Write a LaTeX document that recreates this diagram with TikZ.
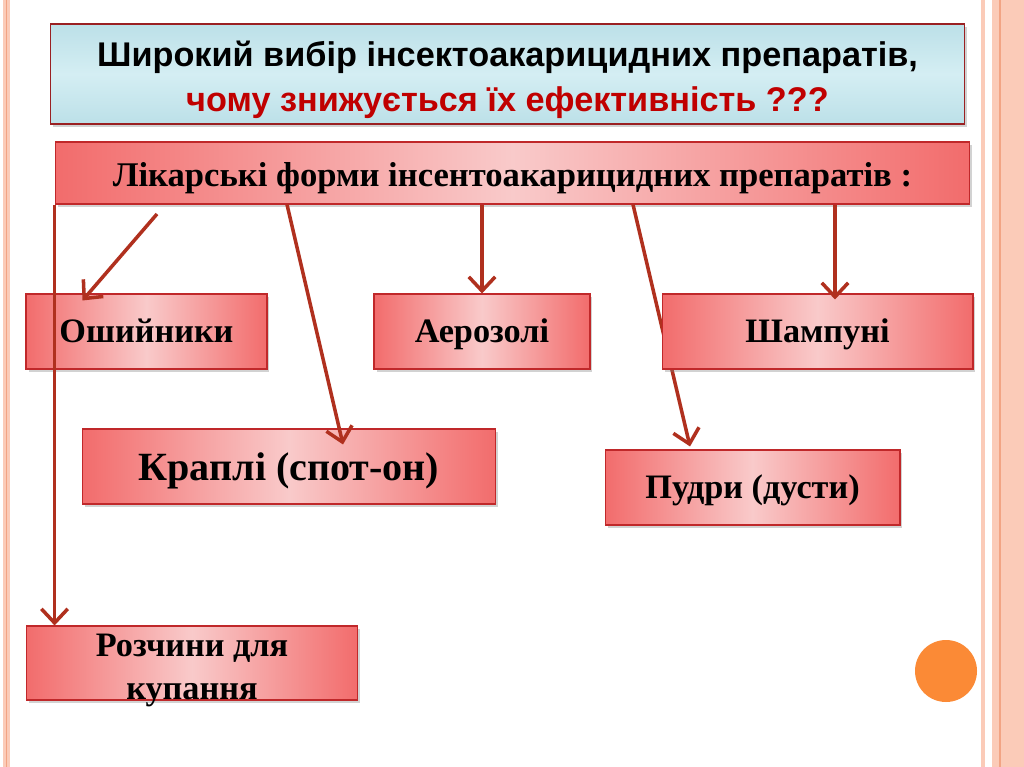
\documentclass[tikz,border=0pt]{standalone}
\usepackage{fontspec}
\setmainfont{Liberation Serif}
\newfontfamily\titlefont{Liberation Sans}
\usetikzlibrary{shapes,positioning,arrows.meta,shadows,calc}

\definecolor{stripe}{HTML}{FBCBB8}
\definecolor{stripeline}{HTML}{F2A484}
\definecolor{dotorange}{HTML}{FB8A36}
\definecolor{waterblue}{HTML}{BCE0E8}
\definecolor{waterlight}{HTML}{D4EEF3}
\definecolor{boxedge}{HTML}{F26C6C}
\definecolor{boxmid}{HTML}{F9CACA}
\definecolor{boxborder}{HTML}{C0282A}
\definecolor{arrred}{HTML}{B0301E}
\definecolor{qred}{HTML}{C00000}

\begin{document}
\begin{tikzpicture}[x=0.02cm, y=-0.02cm]
  \tikzstyle{shade} = [drop shadow={shadow xshift=0.5mm, shadow yshift=-0.6mm, opacity=0.35}]
  \tikzstyle{titlebox} = [rectangle, shade, draw=boxborder!80!black, line width=0.6pt, top color=waterblue, bottom color=waterblue, middle color=waterlight, minimum width=18.3cm, minimum height=2cm]
  \tikzstyle{titletext} = [align=center, inner sep=0pt, font=\titlefont\bfseries\fontsize{19.5}{25.5}\selectfont]
  \tikzstyle{formbox} = [rectangle, shade, draw=boxborder, line width=0.6pt, left color=boxedge, right color=boxedge, middle color=boxmid, minimum height=1.5cm, align=center, text height=14pt, text depth=1pt, font=\bfseries\fontsize{19.5}{23}\selectfont]
  \tikzstyle{headbox} = [formbox, minimum width=18.3cm, minimum height=1.24cm, text height=15.8pt, font=\bfseries\fontsize{19.7}{23}\selectfont]
  \tikzstyle{arr} = [draw=arrred, line width=2pt, -{Straight Barb[length=8pt,width=15pt]}]

  \useasboundingbox (0,0) rectangle (1024,767);
  \fill[white] (0,0) rectangle (1024,767);
  \fill[stripe] (3,0) rectangle (10,767);
  \draw[stripeline, line width=0.4pt] (6.5,0) -- (6.5,767);
  \fill[stripe] (981,0) rectangle (985,767);
  \fill[stripe] (992,0) rectangle (1024,767);
  \draw[stripeline, line width=0.6pt] (1000,0) -- (1000,767);
  \fill[dotorange] (946,671) circle (31);

  \node (title) [titlebox] at (507.5,74) {};
  \node (titlet) [titletext] at (507.5,80) {Широкий вибір інсектоакарицидних препаратів,\\
    \textcolor{qred}{чому знижується їх ефективність ???}};
  \node (hdr) [headbox] at (512.5,173) {Лікарські форми інсентоакарицидних препаратів :};

  \node (oshyi) [formbox, minimum width=4.82cm] at (146.5,331.5) {Ошийники};
  \node (aero) [formbox, minimum width=4.32cm] at (482,331.5) {Аерозолі};
  \node (krapli) [formbox, minimum width=8.28cm, text height=16.4pt, font=\bfseries\fontsize{22.8}{26}\selectfont] at (289,466.5) {Краплі (спот-он)};
  \node (pudry) [formbox, minimum width=5.9cm] at (752.5,487.5) {Пудри (дусти)};
  \node (rozch) [formbox, minimum width=6.64cm, minimum height=1.48cm] at (192,663) {};
  \node (rozchtext) [align=center, font=\bfseries\fontsize{19.5}{24}\selectfont] at (192,670.5) {Розчини для\\купання};

  \draw[arr] ([shift={(120.5,0)}]hdr.south) -- ([shift={(-62.5,-3)}]pudry.north);
  \node (shamp) [formbox, minimum width=6.22cm] at (817.5,331.5) {Шампуні};

  \coordinate (s1) at (157,214);
  \draw[arr] (s1) -- ([shift={(-64,7)}]oshyi.north);
  \draw[arr] ([shift={(-225.5,0)}]hdr.south) -- ([shift={(54,16)}]krapli.north);
  \draw[arr] (hdr.south -| aero.north) -- (aero.north);
  \draw[arr] ([shift={(322.5,0)}]hdr.south) -- ([shift={(17.5,6)}]shamp.north);
  \draw[arr] (hdr.south west) -- (hdr.south west |- rozch.north);
\end{tikzpicture}
\end{document}
